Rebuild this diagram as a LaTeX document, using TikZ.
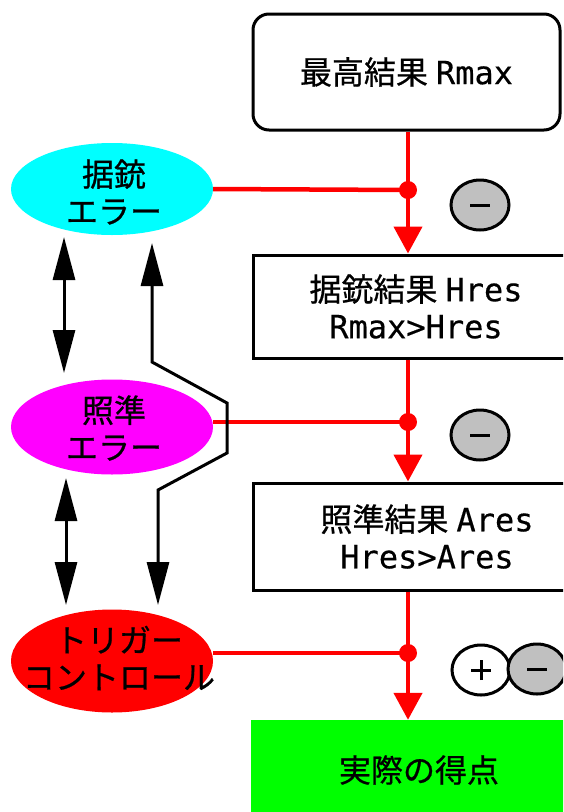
\documentclass[tikz,border=0pt]{standalone}
\usepackage{fontspec}
\setmainfont{Noto Sans CJK JP}[FakeBold=0.7]
\newfontfamily\latfont{DejaVu Sans Mono}[FakeBold=0.4]
\usetikzlibrary{shapes.geometric,arrows.meta}
\definecolor{signgray}{RGB}{192,192,192}
\definecolor{scoregreen}{RGB}{0,255,0}
\definecolor{errcyan}{RGB}{0,255,255}
\definecolor{errmagenta}{RGB}{255,0,255}
\definecolor{errred}{RGB}{255,0,0}
\begin{document}
\begin{tikzpicture}[x=1pt,y=-1pt,
  every node/.style={font=\fontsize{32pt}{37pt}\selectfont},
  redline/.style={draw=errred,line width=4.5pt},
  redarrow/.style={redline,-{Triangle[width=28pt,length=27pt]}},
  blk/.style={draw=black,line width=3pt},
  blkarrow/.style={blk,{Triangle[width=22pt,length=43pt]}-{Triangle[width=22pt,length=43pt]}},
  errell/.style={ellipse,inner sep=0pt,minimum width=202pt,minimum height=92pt},
  resbox/.style={rectangle,draw,line width=3pt,inner sep=0pt,align=center},
  sign/.style={ellipse,draw,line width=3pt,minimum width=58pt,minimum height=50pt,inner sep=0pt},
  lbl/.style={align=center,inner sep=0pt},
  jdot/.style={circle,fill=errred,inner sep=0pt,minimum size=18pt},
  signbar/.style={line width=3pt}
]
\useasboundingbox (0,0) rectangle (563,812);
\clip (0,0) rectangle (563,812);

% result boxes
\node[resbox,rounded corners=16pt,minimum width=307pt,minimum height=116pt] (rmax) at (406.5,72) {最高結果\hspace{8pt}{\latfont Rmax}};
\node[resbox,minimum width=326pt,minimum height=103pt] (hres) at (416,306.5) {据銃結果\hspace{8pt}{\latfont Hres}\\{\latfont Rmax>Hres}};
\node[resbox,minimum width=348pt,minimum height=107pt] (ares) at (427,536.5) {照準結果\hspace{8pt}{\latfont Ares}\\{\latfont Hres>Ares}};
\node[rectangle,fill=scoregreen,minimum width=336pt,minimum height=100pt,inner sep=0pt] (score) at (419,770) {実際の得点};

% error ellipses
\node[errell,fill=errcyan] (gun) at (112,189) {};
\node[lbl] (gunt) at (114,192) {据銃\\エラー};
\node[errell,fill=errmagenta,minimum height=95pt] (aim) at (112,427) {};
\node[lbl] (aimt) at (114,428) {照準\\エラー};
\node[errell,fill=errred,minimum height=103pt] (trig) at (112,661) {};
\node[lbl] (trigt) at (119,658) {トリガー\\コントロール};

% junctions
\node[jdot] (j1) at (408,190) {};
\node[jdot] (j2) at (408,422) {};
\node[jdot] (j3) at (408,653) {};

% red flow
\draw[redline] (rmax.south -| j1) -- (j1.center);
\draw[redarrow] (j1.center) -- (j1 |- hres.north);
\draw[redline] (hres.south -| j2) -- (j2.center);
\draw[redarrow] (j2.center) -- (j2 |- ares.north);
\draw[redline] (ares.south -| j3) -- (j3.center);
\draw[redarrow] (j3.center) -- (j3 |- score.north);
\draw[redline] (gun.east) -- (j1.center);
\draw[redline] (aim.east |- j2) -- (j2.center);
\draw[redline] (trig.east |- j3) -- (j3.center);

% signs
\node[sign,fill=signgray] (m1) at (480,205) {};
\draw[signbar] ([xshift=-10pt]m1.center) -- ([xshift=10pt]m1.center);
\node[sign,fill=signgray] (m2) at (480,435) {};
\draw[signbar] ([xshift=-10pt]m2.center) -- ([xshift=10pt]m2.center);
\node[sign,fill=white] (p3) at (481,670) {};
\draw[signbar] ([xshift=-10pt]p3.center) -- ([xshift=10pt]p3.center);
\draw[signbar] ([yshift=-10pt]p3.center) -- ([yshift=10pt]p3.center);
\node[sign,fill=signgray] (m3) at (537,669) {};
\draw[signbar] ([xshift=-10pt]m3.center) -- ([xshift=10pt]m3.center);

% black arrows
\coordinate (a1) at (64,237);
\coordinate (a2) at (64,373);
\coordinate (a3) at (66,478);
\coordinate (a4) at (66,605);
\draw[blkarrow] (a1) -- (a2);
\draw[blkarrow] (a3) -- (a4);
\coordinate (u1) at (152,243);
\coordinate (u2) at (152,362);
\coordinate (u3) at (227,403);
\coordinate (u4) at (227,453);
\coordinate (u5) at (158,490);
\coordinate (u6) at (158,605);
\draw[blkarrow] (u1) -- (u2) -- (u3) -- (u4) -- (u5) -- (u6);
\end{tikzpicture}
\end{document}
